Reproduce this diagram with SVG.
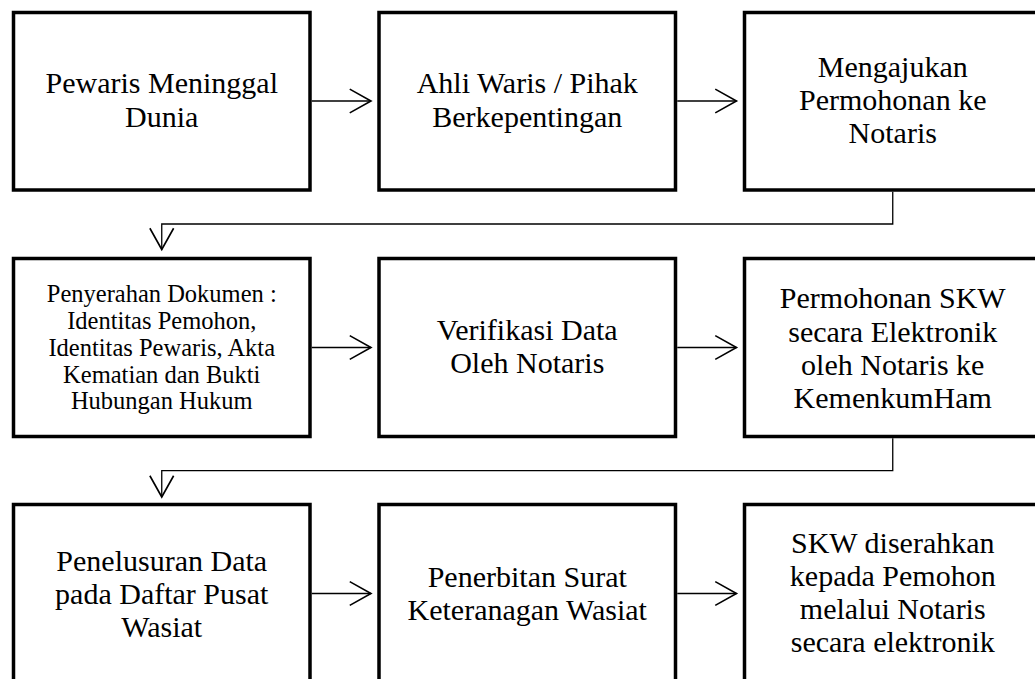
<svg xmlns="http://www.w3.org/2000/svg" width="1035" height="679" viewBox="0 0 1035 679">
<style>
.box{fill:#fff;stroke:#000;stroke-width:3.5}
.t{font-family:"Liberation Serif","Times New Roman",serif;font-size:30px;fill:#000;text-anchor:middle}
.s{font-size:24.5px}
.c{fill:none;stroke:#000;stroke-width:1.3}
</style>
<defs>
<marker id="ah" markerUnits="userSpaceOnUse" markerWidth="30" markerHeight="30" viewBox="-20 -12 24 24" refX="0" refY="0" orient="auto">
<path d="M-17,-9.5 L0,0 L-17,9.5" fill="none" stroke="#000" stroke-width="1.3"/>
</marker>
</defs>
<rect width="1035" height="679" fill="#fff"/>
<g id="n1"><rect class="box" x="13.5" y="12.5" width="296.5" height="177.5"/>
<text class="t" x="161.75" y="93">Pewaris Meninggal</text><text class="t" x="161.75" y="126.5">Dunia</text></g>
<g id="n2"><rect class="box" x="379" y="12.5" width="296.5" height="177.5"/>
<text class="t" x="527.25" y="93">Ahli Waris / Pihak</text><text class="t" x="527.25" y="126.5">Berkepentingan</text></g>
<g id="n3"><rect class="box" x="744.5" y="12.5" width="296.5" height="177.5"/>
<text class="t" x="892.75" y="77">Mengajukan</text><text class="t" x="892.75" y="110">Permohonan ke</text><text class="t" x="892.75" y="143">Notaris</text></g>
<g id="n4"><rect class="box" x="13.5" y="258.5" width="296.5" height="178"/>
<text class="t s" x="161.75" y="301.7">Penyerahan Dokumen :</text>
<text class="t s" x="161.75" y="329">Identitas Pemohon,</text>
<text class="t s" x="161.75" y="356">Identitas Pewaris, Akta</text>
<text class="t s" x="161.75" y="382.7">Kematian dan Bukti</text>
<text class="t s" x="161.75" y="409.3">Hubungan Hukum</text></g>
<g id="n5"><rect class="box" x="379" y="258.5" width="296.5" height="178"/>
<text class="t" x="527.25" y="340">Verifikasi Data</text><text class="t" x="527.25" y="373">Oleh Notaris</text></g>
<g id="n6"><rect class="box" x="744.5" y="258.5" width="296.5" height="178"/>
<text class="t" x="892.75" y="308">Permohonan SKW</text><text class="t" x="892.75" y="341.5">secara Elektronik</text><text class="t" x="892.75" y="374.5">oleh Notaris ke</text><text class="t" x="892.75" y="407.5">KemenkumHam</text></g>
<g id="n7"><rect class="box" x="13.5" y="504.5" width="296.5" height="178"/>
<text class="t" x="161.75" y="571">Penelusuran Data</text><text class="t" x="161.75" y="604">pada Daftar Pusat</text><text class="t" x="161.75" y="637">Wasiat</text></g>
<g id="n8"><rect class="box" x="379" y="504.5" width="296.5" height="178"/>
<text class="t" x="527.25" y="587">Penerbitan Surat</text><text class="t" x="527.25" y="620">Keteranagan Wasiat</text></g>
<g id="n9"><rect class="box" x="744.5" y="504.5" width="296.5" height="178"/>
<text class="t" x="892.75" y="553">SKW diserahkan</text><text class="t" x="892.75" y="586">kepada Pemohon</text><text class="t" x="892.75" y="619">melalui Notaris</text><text class="t" x="892.75" y="652">secara elektronik</text></g>
<g id="connectors">
<path class="c" d="M311.75,101 H371" marker-end="url(#ah)"/>
<path class="c" d="M677.25,101 H736.5" marker-end="url(#ah)"/>
<path class="c" d="M311.75,347.5 H371" marker-end="url(#ah)"/>
<path class="c" d="M677.25,347.5 H736.5" marker-end="url(#ah)"/>
<path class="c" d="M311.75,593.5 H371" marker-end="url(#ah)"/>
<path class="c" d="M677.25,593.5 H736.5" marker-end="url(#ah)"/>
<path class="c" d="M892.75,191.75 V224 H161.75 V249.5" marker-end="url(#ah)"/>
<path class="c" d="M892.75,438.25 V470.7 H161.75 V497" marker-end="url(#ah)"/>
</g>
</svg>
